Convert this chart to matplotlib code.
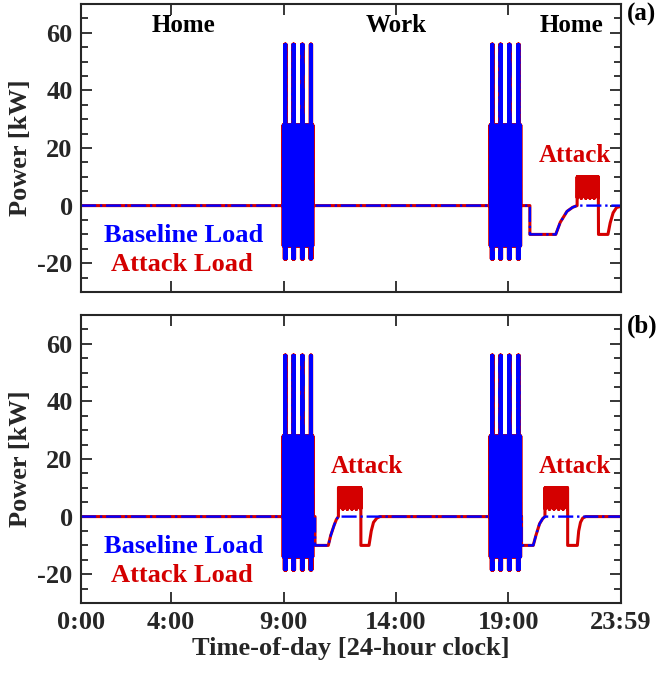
import numpy as np
import matplotlib
matplotlib.use("Agg")
import matplotlib.pyplot as plt

plt.rcParams['font.family'] = ['Liberation Serif', 'DejaVu Serif']
plt.rcParams['font.weight'] = 'bold'
plt.rcParams['axes.labelweight'] = 'bold'
plt.rcParams['axes.unicode_minus'] = False

# x axis (hours)
tick_hours = [0, 4, 9, 14, 19, 23.983]
tick_labels = ["0:00", "4:00", "9:00", "14:00", "19:00", "23:59"]

# high-power bursts: start, end, spike times
burst1 = (8.98, 10.31, [9.08, 9.45, 9.84, 10.22])
burst2 = (18.18, 19.55, [18.28, 18.65, 19.04, 19.44])
burst_high, burst_low = 28, -14
spike_high, spike_low = 56, -18.5

# attack blocks (start, end) and their lower edge scallops
attack_top = 10
scallop_low = [2.5, 4, 2.5, 4, 2.5, 4, 2.5, 4, 2.5, 4, 2.5]
a_blocks = [(22.05, 23.0)]
b_blocks = [(11.44, 12.44), (20.62, 21.63)]

# smooth parts (outside bursts / attack blocks)
a_base_t = [0, 8.98, 10.31, 18.18, 19.55, 19.95, 19.95, 21.1, 21.3, 21.6, 21.85, 22.05, 24]
a_base_v = [0, 0, 0, 0, 0, 0, -10, -10, -5.8, -2, -0.6, 0, 0]
a_att_t = [0, 8.98, 10.31, 18.18, 19.55, 19.95, 19.95, 21.1, 21.3, 21.6, 21.85, 22.05,
           23.0, 23.0, 23.42, 23.52, 23.65, 23.8, 24]
a_att_v = [0, 0, 0, 0, 0, 0, -10, -10, -5.8, -2, -0.6, 0,
           0, -10, -10, -6, -2.5, -0.7, -0.2]

b_base_t = [0, 8.98, 10.31, 10.4, 10.4, 10.99, 11.1, 11.25, 11.35, 11.44,
            18.18, 19.55, 19.58, 19.58, 20.1, 20.22, 20.38, 20.52, 20.62, 24]
b_base_v = [0, 0, 0, 0, -10, -10, -6.5, -3, -1, 0,
            0, 0, 0, -10, -10, -6.5, -2.5, -0.7, 0, 0]
b_att_t = [0, 8.98, 10.31, 10.4, 10.4, 10.99, 11.1, 11.25, 11.35, 11.44,
           12.44, 12.44, 12.8, 12.9, 13.0, 13.15, 13.29,
           18.18, 19.55, 19.58, 19.58, 20.1, 20.22, 20.38, 20.52, 20.62,
           21.63, 21.63, 22.06, 22.12, 22.2, 22.3, 22.44, 24]
b_att_v = [0, 0, 0, 0, -10, -10, -6.5, -3, -1, 0,
           0, -10, -10, -5, -2, -0.5, 0,
           0, 0, 0, -10, -10, -6.5, -2.5, -0.7, 0,
           0, -10, -10, -5, -2, -0.5, 0, 0]


def burst_samples(burst):
    start, end, spikes = burst
    t = np.arange(start + 0.004, end - 0.004, 0.004)
    hi = np.full(t.size, burst_high, dtype=float)
    lo = np.full(t.size, burst_low, dtype=float)
    for s in spikes:
        hi[np.abs(t - s) < 0.035] = spike_high
        lo[np.abs(t - s) < 0.045] = spike_low
    v = np.where(np.arange(t.size) % 2 == 0, hi, lo)
    return t, v


def block_samples(block):
    start, end = block
    t = np.arange(start + 0.004, end - 0.004, 0.004)
    lo = np.interp(t, np.linspace(start, end, len(scallop_low)), scallop_low)
    v = np.where(np.arange(t.size) % 2 == 0, attack_top, lo)
    return t, v


def build(tt, vv, blocks):
    parts_t = [np.array(tt, dtype=float)]
    parts_v = [np.array(vv, dtype=float)]
    for b in (burst1, burst2):
        t, v = burst_samples(b)
        parts_t.append(t)
        parts_v.append(v)
    for b in blocks:
        t, v = block_samples(b)
        parts_t.append(t)
        parts_v.append(v)
    t = np.concatenate(parts_t)
    v = np.concatenate(parts_v)
    order = np.argsort(t, kind='stable')
    return t[order], v[order]


red = '#d40000'
dark = '#262626'

fig = plt.figure(figsize=(6.57, 6.73), dpi=100)
ax_a = fig.add_axes([0.1233, 0.5661, 0.8219, 0.428])
ax_b = fig.add_axes([0.1233, 0.1040, 0.8219, 0.428])

panels = [
    (ax_a, build(a_base_t, a_base_v, []), build(a_att_t, a_att_v, a_blocks)),
    (ax_b, build(b_base_t, b_base_v, []), build(b_att_t, b_att_v, b_blocks)),
]

for ax, base, att in panels:
    ax.plot(att[0], att[1], color=red, lw=2.2)
    ax.plot(base[0], base[1], color='blue', lw=1.7, ls='-.')
    ax.set_xlim(0, 24)
    ax.set_ylim(-30, 70)
    ax.set_xticks(tick_hours)
    ax.set_yticks([-20, 0, 20, 40, 60])
    ax.set_yticks(np.arange(-30, 71, 5), minor=True)
    ax.tick_params(which='both', direction='in', top=True, right=True,
                   colors=dark, labelsize=19, width=1.3)
    ax.tick_params(which='major', length=8, pad=6)
    ax.tick_params(which='minor', length=5)
    ax.tick_params(axis='x', which='minor', top=False, bottom=False)
    for sp in ax.spines.values():
        sp.set_color(dark)
        sp.set_linewidth(1.5)
    ax.set_ylabel("Power [kW]", fontsize=19, color=dark, labelpad=4)
    ax.text(4.55, -10.5, "Baseline Load", color='blue', fontsize=19,
            ha='center', va='center')
    ax.text(4.5, -20.5, "Attack Load", color=red, fontsize=19,
            ha='center', va='center')

ax_a.set_xticklabels([])
ax_b.set_xticklabels(tick_labels)
ax_b.set_xlabel("Time-of-day [24-hour clock]", fontsize=19, color=dark, labelpad=2)

ax_a.text(4.55, 62.5, "Home", fontsize=18, ha='center', va='center')
ax_a.text(14.0, 62.5, "Work", fontsize=18, ha='center', va='center')
ax_a.text(21.8, 62.5, "Home", fontsize=18, ha='center', va='center')
ax_a.text(21.95, 17.5, "Attack", color=red, fontsize=18, ha='center', va='center')
ax_b.text(12.7, 17.5, "Attack", color=red, fontsize=18, ha='center', va='center')
ax_b.text(21.95, 17.5, "Attack", color=red, fontsize=18, ha='center', va='center')

fig.text(0.977, 0.978, "(a)", fontsize=18, ha='center', va='center')
fig.text(0.977, 0.515, "(b)", fontsize=18, ha='center', va='center')

fig.savefig("out.png", dpi=100)
